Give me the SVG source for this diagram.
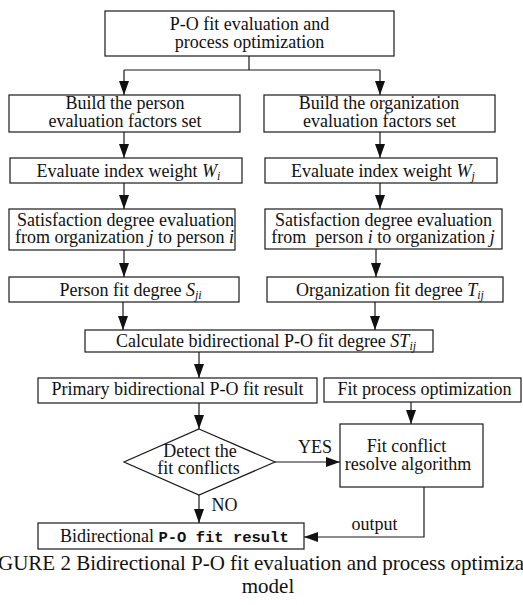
<svg xmlns="http://www.w3.org/2000/svg" width="523" height="605" viewBox="0 0 523 605">
<style>
.b{fill:#fff;stroke:#1a1a1a;stroke-width:1.2}
.c{fill:none;stroke:#1a1a1a;stroke-width:1.2}
text{font-family:"Liberation Serif","Times New Roman",serif;font-size:18px;fill:#111;text-anchor:middle}
.i{font-style:italic}
.s{font-size:12px;font-style:italic}
.m{font-family:"Liberation Mono","Courier New",monospace;font-weight:bold;font-size:15.5px}
.cap{font-size:21px}
</style>
<defs>
<marker id="a" markerUnits="userSpaceOnUse" markerWidth="15" markerHeight="10" refX="14" refY="5" orient="auto">
<path d="M0,0 L14,5 L0,10 z" fill="#111"/>
</marker>
</defs>
<rect width="523" height="605" fill="#fff"/>
<g id="connectors">
<path class="c" d="M249,56 V70 M124,70 H380"/>
<path class="c" d="M124,70 V95" marker-end="url(#a)"/>
<path class="c" d="M380,70 V95" marker-end="url(#a)"/>
<path class="c" d="M124,132 V158" marker-end="url(#a)"/>
<path class="c" d="M380,132 V158" marker-end="url(#a)"/>
<path class="c" d="M124,183 V209" marker-end="url(#a)"/>
<path class="c" d="M380,183 V209" marker-end="url(#a)"/>
<path class="c" d="M124,250 V277" marker-end="url(#a)"/>
<path class="c" d="M376,249 V277" marker-end="url(#a)"/>
<path class="c" d="M123,302 V330" marker-end="url(#a)"/>
<path class="c" d="M375,302 V330" marker-end="url(#a)"/>
<path class="c" d="M199,352 V378" marker-end="url(#a)"/>
<path class="c" d="M199,403 V429" marker-end="url(#a)"/>
<path class="c" d="M411,402 V424" marker-end="url(#a)"/>
<path class="c" d="M275,462 H340" marker-end="url(#a)"/>
<path class="c" d="M199,495 V523" marker-end="url(#a)"/>
<path class="c" d="M424,487 V537 H304" marker-end="url(#a)"/>
<text x="315" y="453">YES</text>
<text x="224.5" y="511">NO</text>
<text x="374.5" y="530">output</text>
</g>
<g id="n1"><rect class="b" x="105" y="11" width="289" height="45"/>
<text x="249.5" y="30">P-O fit evaluation and</text><text x="249.5" y="48">process optimization</text></g>
<g id="n2"><rect class="b" x="9" y="95" width="231" height="37"/>
<text x="125" y="109">Build the person</text><text x="125" y="127">evaluation factors set</text></g>
<g id="n3"><rect class="b" x="264" y="95" width="231" height="37"/>
<text x="379" y="109">Build the organization</text><text x="379.5" y="127">evaluation factors set</text></g>
<g id="n4"><rect class="b" x="10" y="158" width="232" height="25"/>
<text x="128.5" y="177">Evaluate index weight <tspan class="i">W</tspan><tspan class="s" dy="3">i</tspan></text></g>
<g id="n5"><rect class="b" x="265" y="158" width="232" height="25"/>
<text x="383" y="177">Evaluate index weight <tspan class="i">W</tspan><tspan class="s" dy="3">j</tspan></text></g>
<g id="n6"><rect class="b" x="9" y="209" width="226" height="41"/>
<text x="125.5" y="226">Satisfaction degree evaluation</text>
<text x="124.5" y="243">from organization <tspan class="i">j</tspan> to person <tspan class="i">i</tspan></text></g>
<g id="n7"><rect class="b" x="265" y="209" width="237" height="40"/>
<text x="383.5" y="226">Satisfaction degree evaluation</text>
<text x="383" y="243" xml:space="preserve">from  person <tspan class="i">i</tspan> to organization <tspan class="i">j</tspan></text></g>
<g id="n8"><rect class="b" x="9" y="277" width="230" height="25"/>
<text x="130.5" y="296">Person fit degree <tspan class="i">S</tspan><tspan class="s" dy="3">ji</tspan></text></g>
<g id="n9"><rect class="b" x="267" y="277" width="236" height="25"/>
<text x="390" y="296">Organization fit degree <tspan class="i">T</tspan><tspan class="s" dy="3">ij</tspan></text></g>
<g id="n10"><rect class="b" x="85" y="330" width="348" height="22"/>
<text x="266" y="347">Calculate bidirectional P-O fit degree <tspan class="i">ST</tspan><tspan class="s" dy="3">ij</tspan></text></g>
<g id="n11"><rect class="b" x="38" y="378" width="279" height="25"/>
<text x="177.5" y="395">Primary bidirectional P-O fit result</text></g>
<g id="n12"><rect class="b" x="324" y="378" width="197" height="24"/>
<text x="424.5" y="395">Fit process optimization</text></g>
<g id="n13"><polygon class="b" points="199,429 275,462 199,495 124,462"/>
<text x="200" y="457">Detect the</text><text x="198.5" y="474">fit conflicts</text></g>
<g id="n14"><rect class="b" x="340" y="424" width="143" height="63"/>
<text x="406.5" y="452">Fit conflict</text><text x="408" y="470">resolve algorithm</text></g>
<g id="n15"><rect class="b" x="38" y="523" width="266" height="26"/>
<text x="60" y="542" style="text-anchor:start">Bidirectional <tspan class="m">P-O fit result</tspan></text></g>
<g id="caption">
<text class="cap" x="268" y="570">FIGURE 2 Bidirectional P-O fit evaluation and process optimization</text>
<text class="cap" x="268" y="593">model</text>
</g>
</svg>
